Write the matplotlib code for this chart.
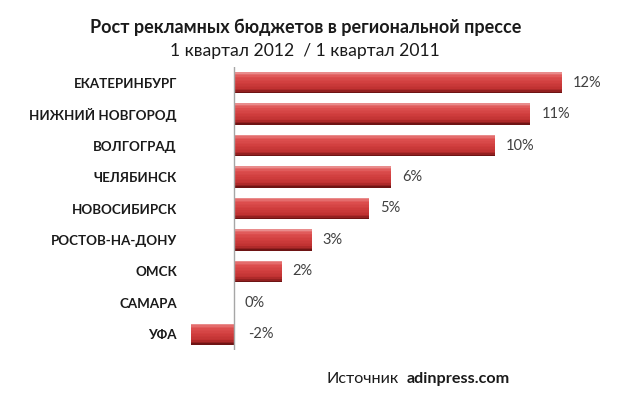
import matplotlib.pyplot as plt
import numpy as np
from matplotlib.colors import LinearSegmentedColormap

cities = ["ЕКАТЕРИНБУРГ", "НИЖНИЙ НОВГОРОД", "ВОЛГОГРАД", "ЧЕЛЯБИНСК",
          "НОВОСИБИРСК", "РОСТОВ-НА-ДОНУ", "ОМСК", "САМАРА", "УФА"]
growth = [12.0, 10.85, 9.55, 5.75, 4.95, 2.85, 1.75, 0.0, -1.55]
value_labels = ["12%", "11%", "10%", "6%", "5%", "3%", "2%", "0%", "-2%"]

title = "Рост рекламных бюджетов в региональной прессе"
subtitle = "1 квартал 2012  / 1 квартал 2011"

plt.rcParams['font.family'] = ['Lato', 'DejaVu Sans']

fig = plt.figure(figsize=(6.2, 3.98), dpi=100)
ax = fig.add_axes([190 / 620, 48 / 398, 410 / 620, 283 / 398])

pos = np.arange(len(cities))

#vertical shading of the bars, top -> bottom, drawn as thin slices
shade = LinearSegmentedColormap.from_list('bar', [
    (0.0, '#E98C8C'), (0.08, '#E46A6A'), (0.22, '#DC4E4E'),
    (0.5, '#D03E3E'), (0.78, '#C03232'), (0.9, '#A02424'), (1.0, '#6E1414')])
bar_h = 0.68
n_slices = 14
dh = bar_h / n_slices
for i in range(n_slices):
    off = -bar_h / 2 + dh * (i + 0.5)
    ax.barh(pos + off, growth, height=dh * 1.05, color=shade(i / (n_slices - 1)),
            linewidth=0, zorder=3)

ax.axvline(0, color='#A6A6A6', lw=1.0, zorder=5)

for p, v, lab in zip(pos, growth, value_labels):
    ax.annotate(lab, xy=(max(v, 0), p), xytext=(8 if v >= 0 else 10.5, 0),
                textcoords='offset points', va='center', ha='left',
                fontsize=10.5, color='#404040')

ax.set_xlim(-1.6, 13.4)
ax.set_ylim(len(cities) - 0.5, -0.5)
ax.set_yticks(pos)
ax.set_yticklabels(cities, fontsize=9.6, fontweight='bold', color='#1A1A1A')
ax.tick_params(axis='y', length=0, pad=9.5)
ax.set_xticks([])
for s in ax.spines.values():
    s.set_visible(False)

fig.text(306 / 620, 1 - 27 / 398, title, ha='center', va='center',
         fontsize=13.0, fontweight='bold', color='#1A1A1A')
fig.text(304.5 / 620, 1 - 51 / 398, subtitle, ha='center', va='center',
         fontsize=12.6, color='#1A1A1A')

src = fig.text(326 / 620, 1 - 386 / 398, "Источник", ha='left', va='bottom',
               fontsize=11.6, color='#1A1A1A')
plt.annotate("adinpress.com", xy=(1, 0), xycoords=src, xytext=(6, 0),
             textcoords='offset points', ha='left', va='bottom',
             fontsize=11.6, fontweight='bold', color='#1A1A1A',
             annotation_clip=False)

fig.savefig("out.png", dpi=100, facecolor='white')
